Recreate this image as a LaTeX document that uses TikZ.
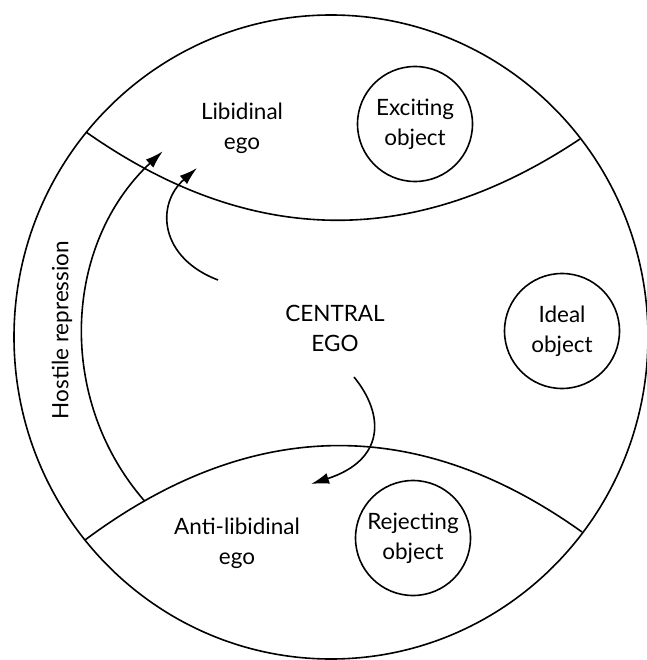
\documentclass[tikz,border=0pt]{standalone}
\usepackage{fontspec}
\setmainfont{Lato}
\usetikzlibrary{arrows.meta,shapes.geometric}
\begin{document}
\begin{tikzpicture}[x=1pt, y=-1pt, line width=1.6pt, >={Latex[length=18pt,width=11pt]}, main node/.style={circle,draw,minimum size=115pt,inner sep=0pt,align=center}]
\useasboundingbox (0,0) rectangle (646,660);
\begin{scope}[every node/.style={font=\fontsize{22.5}{30}\selectfont, align=center}]
\node[ellipse,draw,minimum width=634pt,minimum height=644pt,inner sep=0pt] (psyche) at (331,337) {};
\node[main node] (o1) at (415,124) {Exciting\\object};
\node[main node] (o2) at (562,331) {Ideal\\object};
\node[main node] (o3) at (413,538) {Rejecting\\object};
\node (e1) at (242,128) {Libidinal\\ego};
\node (e2) at (335,328) {CENTRAL\\EGO};
\node (e3) at (237,543) {Anti-libidinal\\ego};
\node[rotate=90] (hr) at (62,330) {Hostile repression};
%\node[main node] (o) at (,) {};
\end{scope}
\begin{scope}
\coordinate (tl) at (86,132);
\coordinate (tr) at (580,139);
\coordinate (bl) at (85,540);
\coordinate (br) at (582,532);
\draw (tl) .. controls (251,248) and (415,249) .. (tr);
\draw (bl) .. controls (250,417) and (417,414) .. (br) coordinate[pos=0.12] (hb);
\end{scope}
\begin{scope}
\coordinate (a1) at (218,280);
\coordinate (a2) at (197,168);
\coordinate (b1) at (354,377);
\coordinate (b2) at (311,484);
\draw[->] (hb) arc[start angle=139, end angle=227, radius=252];
\draw[->] (a1) .. controls (160,258) and (155,205) .. (a2);
\draw[->] (b1) .. controls (385,415) and (385,460) .. (b2);
%\draw[->] (a) .. controls () and () .. (b);
\end{scope}
\end{tikzpicture}
\end{document}
